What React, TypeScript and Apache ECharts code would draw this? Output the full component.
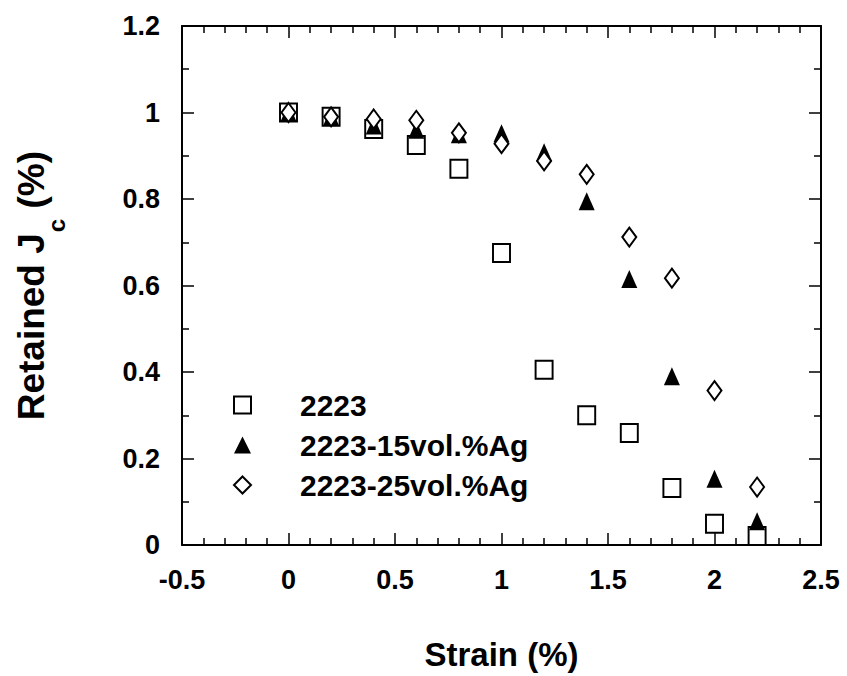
import React, { useEffect, useRef } from "react";
import * as echarts from "echarts";

const strain = [0, 0.2, 0.4, 0.6, 0.8, 1.0, 1.2, 1.4, 1.6, 1.8, 2.0, 2.2];
const s2223 = [1.0, 0.99, 0.962, 0.925, 0.87, 0.675, 0.405, 0.3, 0.259, 0.132, 0.049, 0.021];
const s15 = [1.0, 0.99, 0.97, 0.96, 0.95, 0.952, 0.908, 0.795, 0.615, 0.39, 0.153, 0.055];
const s25 = [1.0, 0.99, 0.985, 0.982, 0.953, 0.928, 0.888, 0.857, 0.712, 0.617, 0.357, 0.134];
const seriesNames = ["2223", "2223-15vol.%Ag", "2223-25vol.%Ag"];

const FONT = "'Liberation Sans', Arial, Helvetica, sans-serif";

export default function App() {
  const ref = useRef<HTMLDivElement>(null);
  useEffect(() => {
    if (!ref.current) return;
    const chart = echarts.init(ref.current, null, { renderer: "svg" });
    const pts = (ys: number[]) => strain.map((x, i) => [x, ys[i]]);
    const axisCommon = {
      axisLine: { show: true, onZero: false, lineStyle: { color: "#000", width: 2 } },
      axisTick: { show: true, inside: true, length: 12, lineStyle: { color: "#000", width: 1.5 } },
      minorTick: { show: true, length: 7, lineStyle: { color: "#000", width: 1.5 } },
      splitLine: { show: false },
    };
    const xBase = { type: "value", min: -0.5, max: 2.5, interval: 0.5 };
    const yBase = { type: "value", min: 0, max: 1.2, interval: 0.2 };
    const labelStyle = { color: "#000", fontSize: 27, fontWeight: "bold", fontFamily: FONT };
    chart.setOption({
      animation: false,
      backgroundColor: "#fff",
      textStyle: { fontFamily: FONT },
      grid: { left: 182, right: 26, top: 26, bottom: 131 },
      legend: {
        orient: "vertical",
        left: 228,
        top: 385,
        itemWidth: 17,
        itemHeight: 17,
        itemGap: 10,
        data: seriesNames,
        textStyle: {
          fontSize: 30,
          fontWeight: "bold",
          color: "#000",
          fontFamily: FONT,
          lineHeight: 30,
          padding: [0, 0, 0, 44],
        },
      },
      xAxis: [
        {
          ...xBase,
          ...axisCommon,
          minorTick: { ...axisCommon.minorTick, splitNumber: 5 },
          position: "bottom",
          axisLabel: { ...labelStyle, margin: 21 },
          name: "Strain (%)",
          nameLocation: "middle",
          nameGap: 93,
          nameTextStyle: { color: "#000", fontSize: 33, fontWeight: "bold", fontFamily: FONT },
        },
        {
          ...xBase,
          ...axisCommon,
          minorTick: { ...axisCommon.minorTick, splitNumber: 5 },
          position: "top",
          axisLabel: { show: false },
        },
      ],
      yAxis: [
        {
          ...yBase,
          ...axisCommon,
          minorTick: { ...axisCommon.minorTick, splitNumber: 2 },
          position: "left",
          axisLabel: { ...labelStyle, margin: 22 },
          name: "{a|Retained J}{b|c}{a| (%)}{s| }",
          nameLocation: "middle",
          nameGap: 114,
          nameTextStyle: {
            color: "#000",
            fontFamily: FONT,
            fontWeight: "bold",
            rich: {
              a: { fontSize: 37, lineHeight: 38, verticalAlign: "top", fontWeight: "bold", fontFamily: FONT, color: "#000" },
              b: { fontSize: 24, lineHeight: 24, verticalAlign: "bottom", fontWeight: "bold", fontFamily: FONT, color: "#000", padding: [0, 0, 0, 1] },
              s: { fontSize: 1, lineHeight: 55, verticalAlign: "top", color: "#000" },
            },
          },
        },
        {
          ...yBase,
          ...axisCommon,
          minorTick: { ...axisCommon.minorTick, splitNumber: 2 },
          position: "right",
          axisLabel: { show: false },
        },
      ],
      series: [
        {
          name: seriesNames[0],
          type: "scatter",
          data: pts(s2223),
          symbol: "rect",
          symbolSize: [17, 18],
          itemStyle: { color: "#fff", borderColor: "#000", borderWidth: 2, opacity: 1 },
          z: 2,
        },
        {
          name: seriesNames[1],
          type: "scatter",
          data: pts(s15),
          symbol: "triangle",
          symbolSize: [16, 18],
          itemStyle: { color: "#000", borderColor: "#000", borderWidth: 0, opacity: 1 },
          z: 3,
        },
        {
          name: seriesNames[2],
          type: "scatter",
          data: pts(s25),
          symbol: "diamond",
          symbolSize: [14, 19],
          itemStyle: { color: "#fff", borderColor: "#000", borderWidth: 2, opacity: 1 },
          z: 4,
        },
      ],
    });
    return () => chart.dispose();
  }, []);
  return <div ref={ref} style={{ width: 847, height: 676, position: "absolute", left: 0, top: 0 }} />;
}
